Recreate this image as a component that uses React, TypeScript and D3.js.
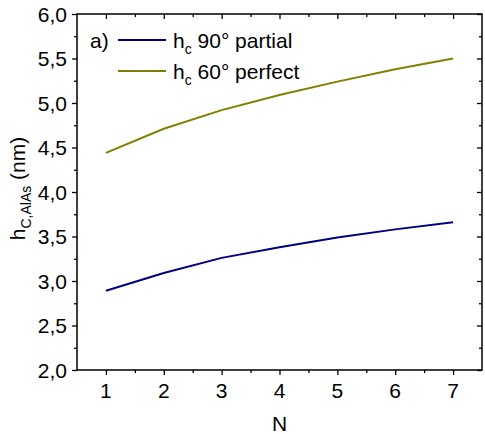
import React, { useEffect, useRef } from 'react'
import * as d3 from 'd3'

const nValues = [1, 2, 3, 4, 5, 6, 7]
const partial90 = [2.89, 3.09, 3.26, 3.38, 3.49, 3.58, 3.66]
const perfect60 = [4.44, 4.71, 4.92, 5.09, 5.24, 5.38, 5.5]
const yTicks = [2.0, 2.5, 3.0, 3.5, 4.0, 4.5, 5.0, 5.5, 6.0]
const seriesNames = ['90° partial', '60° perfect']
const seriesColors = ['#000080', '#808000']

export default function App() {
  const ref = useRef<SVGSVGElement>(null)

  useEffect(() => {
    const svg = d3.select(ref.current)
    svg.selectAll('*').remove()
    const left = 77, right = 482, top = 14, bottom = 370
    const font = 'Liberation Sans, Arial, sans-serif'
    const fs = 21
    const subFs = 14

    const x = d3.scaleLinear().domain([0.5, 7.5]).range([left, right])
    const y = d3.scaleLinear().domain([2, 6]).range([bottom, top])

    const fmt = (d: number) => d.toFixed(1).replace('.', ',')
    const xMinor = d3.range(1.5, 7.5, 1)
    const yMinor = d3.range(2.25, 6, 0.5)

    const label = (px: number, py: number, anchor = 'start', rot = 0) =>
      svg.append('text')
        .attr('transform', `translate(${px},${py}) rotate(${rot})`)
        .attr('text-anchor', anchor).attr('font-family', font).attr('font-size', fs).attr('fill', '#000')

    const styleAxis = (g: any) => {
      g.select('.domain').remove()
      g.selectAll('line').attr('stroke', '#000').attr('stroke-width', 1.3)
      g.selectAll('text').remove()
    }
    const addAxis = (axis: any, tx: number, ty: number) =>
      svg.append('g').attr('transform', `translate(${tx},${ty})`).call(axis).call(styleAxis)

    addAxis(d3.axisBottom(x).tickValues(nValues).tickSize(5), 0, bottom)
    addAxis(d3.axisBottom(x).tickValues(xMinor).tickSize(3), 0, bottom)
    addAxis(d3.axisBottom(x).tickValues(nValues).tickSize(5), 0, top)
    addAxis(d3.axisBottom(x).tickValues(xMinor).tickSize(3), 0, top)
    addAxis(d3.axisLeft(y).tickValues(yTicks).tickSize(5), left, 0)
    addAxis(d3.axisLeft(y).tickValues(yMinor).tickSize(3), left, 0)
    addAxis(d3.axisLeft(y).tickValues(yTicks).tickSize(5), right, 0)
    addAxis(d3.axisLeft(y).tickValues(yMinor).tickSize(3), right, 0)

    nValues.forEach(n => label(x(n), 398, 'middle').text(String(n)))
    yTicks.forEach(v => label(67, y(v) + 7.5, 'end').text(fmt(v)))

    svg.append('rect')
      .attr('x', left).attr('y', top).attr('width', right - left).attr('height', bottom - top)
      .attr('fill', 'none').attr('stroke', '#000').attr('stroke-width', 1.5)

    const line = d3.line<number>().x((_, i) => x(nValues[i])).y(d => y(d))
    ;[partial90, perfect60].forEach((s, i) => {
      svg.append('path').attr('d', line(s)!).attr('fill', 'none')
        .attr('stroke', seriesColors[i]).attr('stroke-width', 2)
    })

    // legend
    label(90, 48).text('a)')
    seriesNames.forEach((name, i) => {
      const ly = 40 + i * 31
      svg.append('line').attr('x1', 118).attr('x2', 166).attr('y1', ly).attr('y2', ly)
        .attr('stroke', seriesColors[i]).attr('stroke-width', 2)
      const t = label(173, ly + 8)
      t.append('tspan').text('h')
      t.append('tspan').attr('font-size', subFs).attr('dy', 6).text('c')
      t.append('tspan').attr('dy', -6).text(' ' + name)
    })

    // axis labels
    label((left + right) / 2, 431, 'middle').text('N')
    const yl = label(25, 188.5, 'middle', -90)
    yl.append('tspan').text('h')
    yl.append('tspan').attr('font-size', subFs).attr('dy', 6).text('C,AlAs')
    yl.append('tspan').attr('dy', -6).text(' (nm)')
  }, [])

  return <svg ref={ref} width={485} height={434} style={{ position: 'absolute', left: 0, top: 0 }} />
}
